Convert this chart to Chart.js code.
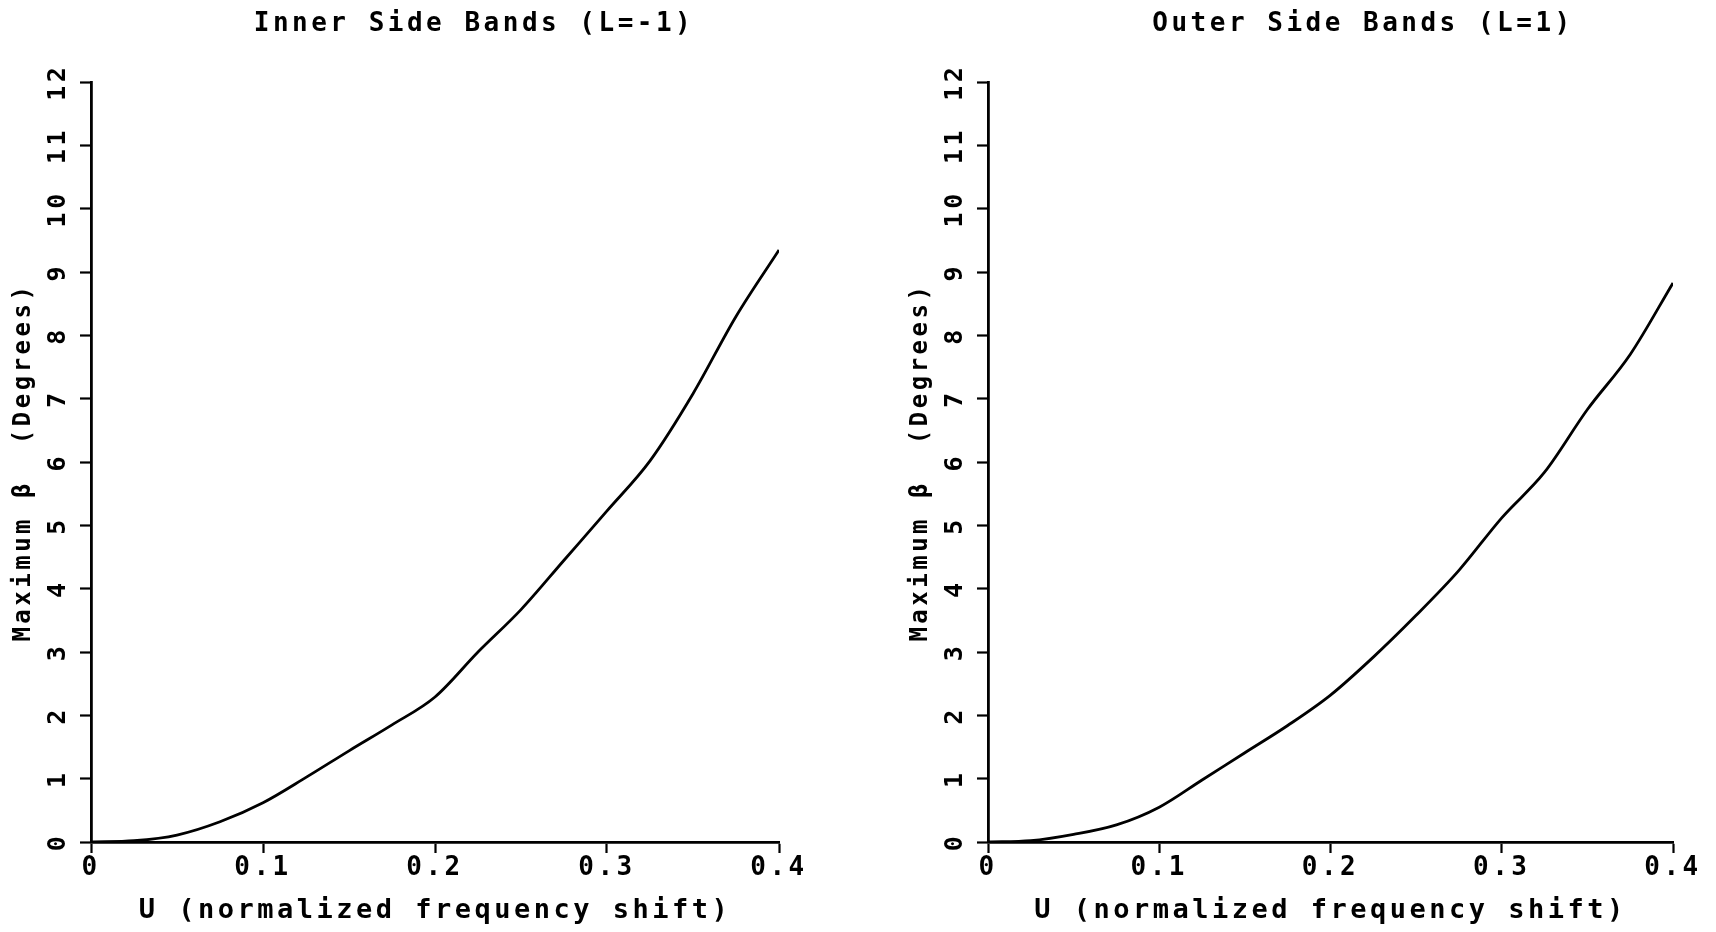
<!DOCTYPE html>
<html>
<head>
<meta charset="utf-8">
<script src="https://cdn.jsdelivr.net/npm/chart.js@4.4.1/dist/chart.umd.min.js"></script>
<style>
  html, body { margin: 0; padding: 0; background: #fff; overflow: hidden; }
  body { width: 1716px; height: 932px; position: relative; }
  .panel { position: absolute; top: 0; height: 932px; }
  #inner-wrap { left: 0; width: 948px; }
  #outer-wrap { left: 897px; width: 932px; }
</style>
</head>
<body>
<div class="panel" id="inner-wrap"><canvas id="inner-chart"></canvas></div>
<div class="panel" id="outer-wrap"><canvas id="outer-chart"></canvas></div>
<script>
// normalized frequency shift U
const uValues = [0, 0.025, 0.05, 0.075, 0.1, 0.125, 0.15, 0.175, 0.2, 0.225, 0.25, 0.275, 0.3, 0.325, 0.35, 0.375, 0.4];
// maximum beta in degrees, L = -1
const innerBeta = [0, 0.02, 0.11, 0.32, 0.62, 1.02, 1.44, 1.85, 2.29, 3.0, 3.67, 4.45, 5.23, 6.02, 7.08, 8.3, 9.35];
// maximum beta in degrees, L = 1
const outerBeta = [0, 0.02, 0.12, 0.27, 0.55, 0.98, 1.41, 1.84, 2.32, 2.92, 3.58, 4.29, 5.12, 5.84, 6.83, 7.7, 8.83];

const xLabel = 'U (normalized frequency shift)';
const yLabel = 'Maximum \u03b2  (Degrees)';

const FONT = "'DejaVu Sans Mono', 'Liberation Mono', monospace";

// wide plotter-style lettering; the title spans the whole canvas, not just the padded box
const plotterText = {
  id: 'plotterText',
  beforeUpdate(chart) { chart.ctx.letterSpacing = '3.5px'; },
  afterLayout(chart) {
    if (chart.titleBlock) {
      chart.titleBlock.left = 0;
      chart.titleBlock.right = chart.width;
    }
  },
  beforeDraw(chart) { chart.ctx.letterSpacing = '3.5px'; }
};

function createChart(id, titleText, values, rightPad) {
  const el = document.getElementById(id);
  const points = uValues.map((u, i) => ({ x: u, y: values[i] }));

  return new Chart(el.getContext('2d'), {
    type: 'line',
    data: {
      datasets: [{
        data: points,
        borderColor: '#000',
        borderWidth: 2.8,
        pointRadius: 0,
        cubicInterpolationMode: 'monotone',
        fill: false
      }]
    },
    plugins: [plotterText],
    options: {
      responsive: true,
      maintainAspectRatio: false,
      animation: false,
      layout: { padding: { left: 0, right: rightPad, top: 0, bottom: 0 } },
      plugins: {
        legend: { display: false },
        tooltip: { enabled: false },
        title: {
          display: true,
          text: titleText,
          color: '#000',
          font: { family: FONT, size: 26, weight: 'bold' },
          padding: { top: 9, bottom: 42 }
        }
      },
      scales: {
        x: {
          type: 'linear',
          min: 0,
          max: 0.4,
          afterFit: s => { s.height = 90; },
          ticks: {
            stepSize: 0.1,
            color: '#000',
            padding: 0,
            maxRotation: 0,
            font: { family: FONT, size: 26, weight: 'bold' }
          },
          grid: { drawOnChartArea: false, drawTicks: true, tickLength: 11, tickWidth: 2.2, tickColor: '#000' },
          border: { display: true, color: '#000', width: 2.8 },
          title: {
            display: true,
            text: xLabel,
            color: '#000',
            font: { family: FONT, size: 27, weight: 'bold' },
            padding: { top: 0, bottom: 5 }
          }
        },
        y: {
          min: 0,
          max: 12,
          afterFit: s => { s.width = 91; },
          ticks: {
            stepSize: 1,
            color: '#000',
            padding: 3,
            minRotation: 90,
            maxRotation: 90,
            crossAlign: 'center',
            font: { family: FONT, size: 25, weight: 'bold' }
          },
          grid: { drawOnChartArea: false, drawTicks: true, tickLength: 11, tickWidth: 2.2, tickColor: '#000' },
          border: { display: true, color: '#000', width: 2.8 },
          title: {
            display: true,
            text: yLabel,
            color: '#000',
            font: { family: FONT, size: 24, weight: 'bold' },
            padding: { top: 9, bottom: 0 }
          }
        }
      }
    }
  });
}

createChart('inner-chart', 'Inner Side Bands (L=-1)', innerBeta, 169);
createChart('outer-chart', 'Outer Side Bands (L=1)', outerBeta, 156);
</script>
</body>
</html>
